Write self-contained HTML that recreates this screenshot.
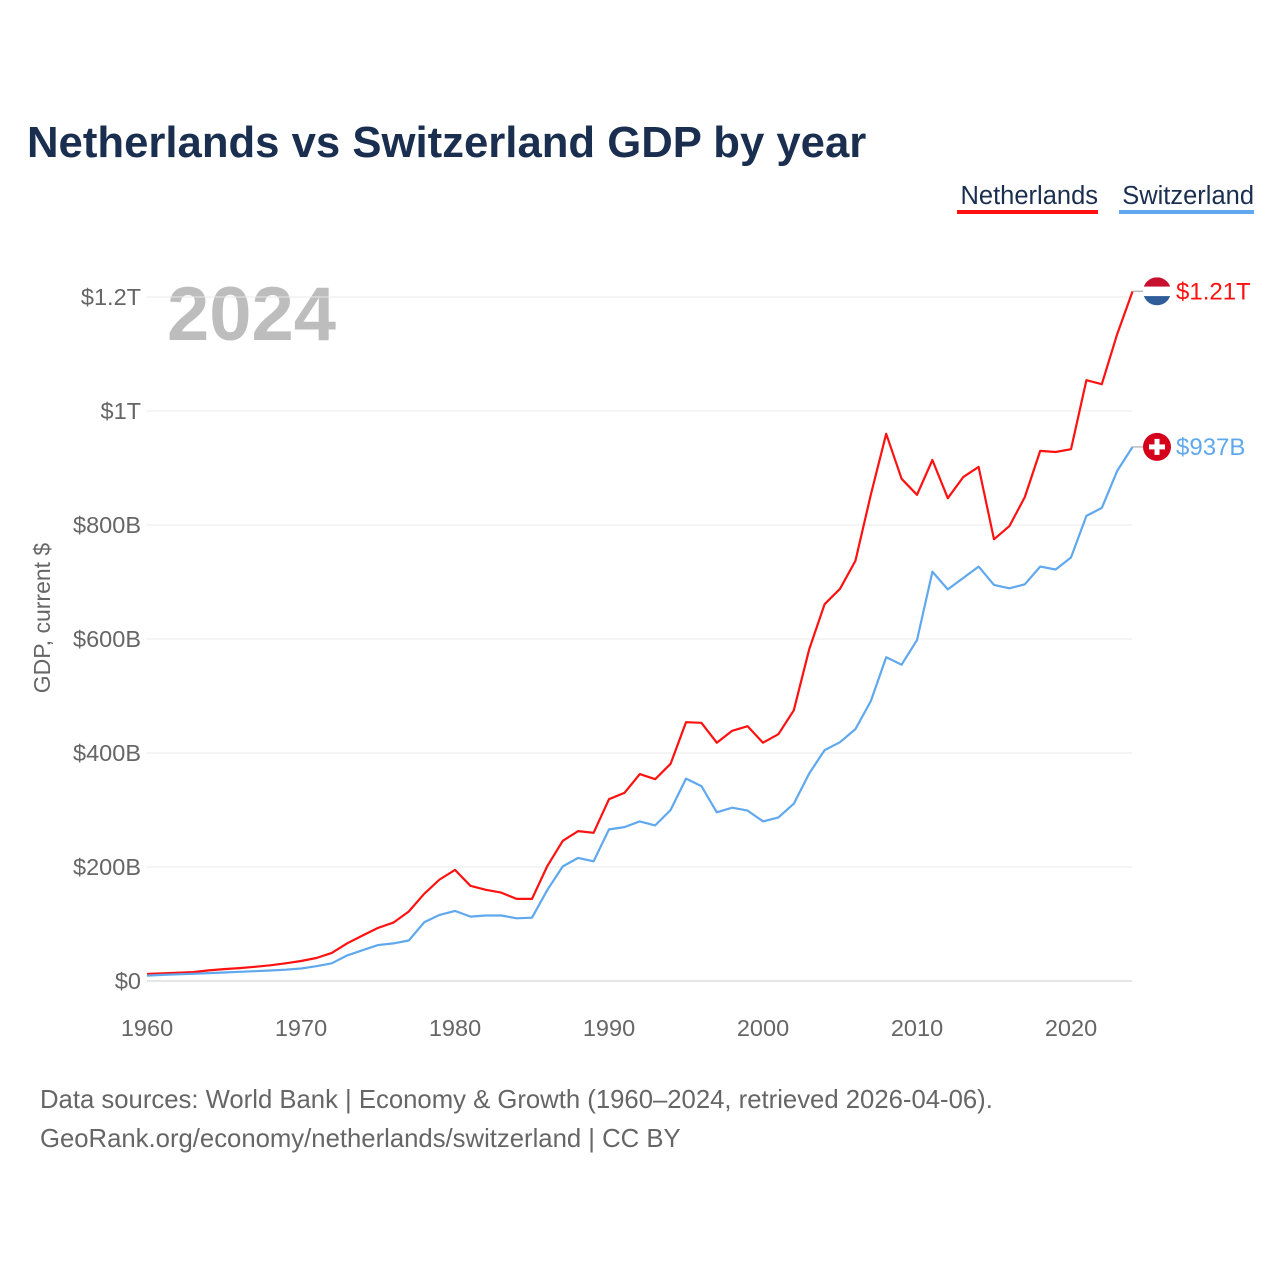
<!DOCTYPE html>
<html><head><meta charset="utf-8"><style>
body{margin:0;background:#fff;font-family:"Liberation Sans",sans-serif}
svg{display:block}
</style></head><body>
<svg width="1280" height="1280" viewBox="0 0 1280 1280">
<text x="27" y="157" font-size="43.7" font-weight="bold" fill="#1a2e4f">Netherlands vs Switzerland GDP by year</text>
<g>
<text x="1098" y="204" font-size="25.5" fill="#1a2e4f" text-anchor="end">Netherlands</text>
<rect x="957" y="210" width="141" height="4" fill="#ff1111"/>
<text x="1254" y="204" font-size="25.5" fill="#1a2e4f" text-anchor="end">Switzerland</text>
<rect x="1119" y="210" width="135" height="4" fill="#5fa8ee"/>
</g>
<text x="167" y="340" font-size="76" font-weight="bold" fill="#bdbdbd">2024</text>
<text transform="translate(50,618) rotate(-90)" font-size="23" fill="#666" text-anchor="middle">GDP, current $</text>
<g id="grid"></g><g id="yticks"></g><g id="xticks"></g><g id="series"></g><g id="ends"></g>
<text x="40" y="1108" font-size="25.7" fill="#666">Data sources: World Bank | Economy &amp; Growth (1960–2024, retrieved 2026-04-06).</text>
<text x="40" y="1147" font-size="25.7" fill="#666">GeoRank.org/economy/netherlands/switzerland | CC BY</text>
</svg>
<script>
const years=[];for(let y=1960;y<=2024;y++)years.push(y);
const netherlands=[12.3,13.4,14.5,15.7,18.6,20.9,22.6,24.9,27.6,31.0,35.0,40.3,49.3,66.1,79.9,93.2,102.4,122,153,178,195,167,160,155,144,144,202,246,263,260,319,330,363,354,381,454,453,418,439,447,418,433,475,582,661,688,737,853,960,881,853,914,847,884,902,775,798,849,930,928,933,1054,1047,1135,1210];
const switzerland=[9.5,10.7,11.7,12.7,13.9,15.0,16.1,17.2,18.4,19.9,22.0,26.0,31.0,45,54,63,66,71,103,116,123,113,115,115,110,111,160,201,216,210,266,270,280,273,300,355,342,296,304,299,280,287,311,364,405,419,442,491,568,555,598,718,687,707,727,695,689,696,727,722,743,816,830,895,937];
const yTicks=[0,200,400,600,800,1000,1200];
const yTickLabels=["$0","$200B","$400B","$600B","$800B","$1T","$1.2T"];
const xTicks=[1960,1970,1980,1990,2000,2010,2020];
const endLabels=["$1.21T","$937B"];
const NS="http://www.w3.org/2000/svg";
const X=y=>147+(y-1960)*15.4;
const Y=v=>981-v*0.57;
function mk(t,a,p){const e=document.createElementNS(NS,t);for(const k in a)e.setAttribute(k,a[k]);p.appendChild(e);return e;}
const grid=document.getElementById('grid'),yt=document.getElementById('yticks'),xt=document.getElementById('xticks');
yTicks.forEach((v,i)=>{
 const l=mk('line',{x1:147,x2:1132,y1:Y(v),y2:Y(v),stroke:v===0?'#ccc':'#e8e8e8','stroke-width':1},grid);
 
 
 const t=mk('text',{x:141,y:Y(v)+8,'font-size':23.5,fill:'#666','text-anchor':'end'},yt);
 t.textContent=yTickLabels[i];
 
 
});
xTicks.forEach(y=>{
 const t=mk('text',{x:X(y),y:1036,'font-size':23.5,fill:'#666','text-anchor':'middle'},xt);
 t.textContent=y;
 
 
});
const ser=document.getElementById('series');
[[netherlands,'#ff1111','netherlands-line'],[switzerland,'#5fa8ee','switzerland-line']].forEach(([d,c,n])=>{
 const p=mk('path',{d:d.map((v,i)=>(i?'L':'M')+X(years[i]).toFixed(1)+','+Y(v).toFixed(1)).join(''),fill:'none',stroke:c,'stroke-width':2.2,'stroke-linejoin':'round'},ser);
 
 
});
const ends=document.getElementById('ends');
const last=years.length-1;
[[netherlands,'#ff1111','nl'],[switzerland,'#5fa8ee','ch']].forEach(([d,c,k],i)=>{
 const y=Y(d[last]);
 mk('line',{x1:X(years[last]),x2:1143,y1:y,y2:y,stroke:'#bbb','stroke-width':1.5},ends);
 const g=mk('g',{},ends);
 
 
 const cx=1157,r=14;
 if(k==='nl'){
  mk('clipPath',{id:'cnl'},g).appendChild(document.createElementNS(NS,'circle')).setAttribute('r',r);
  const cp=g.lastChild.firstChild;cp.setAttribute('cx',cx);cp.setAttribute('cy',y);
  mk('rect',{x:cx-r,y:y-r,width:28,height:9.4,fill:'#c8102e','clip-path':'url(#cnl)'},g);
  mk('rect',{x:cx-r,y:y-r+9.4,width:28,height:9.4,fill:'#fff','clip-path':'url(#cnl)'},g);
  mk('rect',{x:cx-r,y:y-r+18.8,width:28,height:9.4,fill:'#2f5d9a','clip-path':'url(#cnl)'},g);
 }else{
  mk('circle',{cx:cx,cy:y,r:r,fill:'#d5001c'},g);
  mk('rect',{x:cx-2.5,y:y-8,width:5,height:16,fill:'#fff'},g);
  mk('rect',{x:cx-8,y:y-2.5,width:16,height:5,fill:'#fff'},g);
 }
 const t=mk('text',{x:1176,y:y+8,'font-size':24,fill:c},ends);
 t.textContent=endLabels[i];
 
 
});
</script>
</body></html>
